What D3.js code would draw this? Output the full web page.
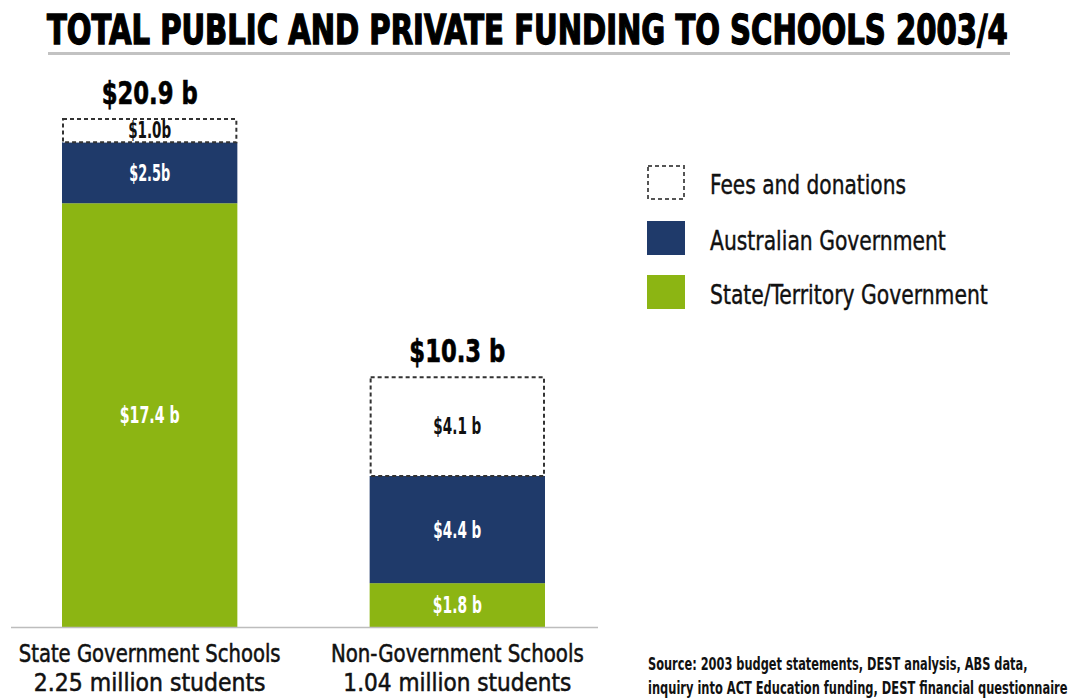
<!DOCTYPE html>
<html>
<head>
<meta charset="utf-8">
<script src="https://cdn.jsdelivr.net/npm/d3@7"></script>
<style>
  html, body { margin: 0; padding: 0; background: #ffffff; }
  svg { display: block; }
  text { font-family: 'Liberation Sans Narrow', 'DejaVu Sans Condensed', 'Arial Narrow', sans-serif; }
</style>
</head>
<body>
<svg id="chart" width="1072" height="699"></svg>
<script>
// ---- data ----
const title = "TOTAL PUBLIC AND PRIVATE FUNDING TO SCHOOLS 2003/4";
const categories = ["State Government Schools", "Non-Government Schools"];
const studentCounts = ["2.25 million students", "1.04 million students"];
const stateTerritory = [17.4, 1.8];
const australianGov = [2.5, 4.4];
const feesDonations = [1.0, 4.1];
const totals = [20.9, 10.3];
const totalLabels = ["$20.9 b", "$10.3 b"];
const stateLabels = ["$17.4 b", "$1.8 b"];
const ausLabels = ["$2.5b", "$4.4 b"];
const feesLabels = ["$1.0b", "$4.1 b"];
const seriesNames = ["Fees and donations", "Australian Government", "State/Territory Government"];
const sourceLines = ["Source: 2003 budget statements, DEST analysis, ABS data,",
                     "inquiry into ACT Education funding, DEST financial questionnaire"];

const NAVY = "#1f3a6a";
const GREEN = "#8cb513";

const svg = d3.select("#chart");

// place a text at (x,y) and squeeze it horizontally to a target width
function fitText(parent, x, y, str, width, anchor, attrs) {
  const gg = parent.append("g");
  const t = gg.append("text").attr("x", 0).attr("y", 0).attr("text-anchor", anchor).text(str);
  Object.entries(attrs).forEach(([k, v]) => t.attr(k, v));
  const w = t.node().getComputedTextLength();
  const s = width / w;
  gg.attr("transform", `translate(${x},${y}) scale(${s},1)`);
  return t;
}

// title
fitText(svg, 47, 44, title, 961, "start",
  { "font-size": 40, "font-weight": "bold", fill: "#000", stroke: "#000", "stroke-width": 1.3 });
svg.append("line")
  .attr("x1", 48).attr("x2", 1010).attr("y1", 53.5).attr("y2", 53.5)
  .attr("stroke", "#c2c2c2").attr("stroke-width", 3);

// scales
const x = d3.scaleBand().domain(categories).range([62, 545]).paddingInner(0.43).paddingOuter(0);
const y = d3.scaleLinear().domain([0, 20.9]).range([627, 118]);

const segWidths = [[60, 41, 43], [49, 48, 48]];

const rows = categories.map((c, i) => {
  const s1 = stateTerritory[i];
  const a1 = s1 + australianGov[i];
  const f1 = a1 + feesDonations[i];
  return { c, i, segs: [
    { key: "state", v0: 0, v1: s1, label: stateLabels[i] },
    { key: "aus", v0: s1, v1: a1, label: ausLabels[i] },
    { key: "fees", v0: a1, v1: f1, label: feesLabels[i] }
  ]};
});

const g = svg.append("g");
rows.forEach(r => {
  const bx = x(r.c), bw = x.bandwidth();
  r.segs.forEach((s, k) => {
    const top = y(s.v1), bot = y(s.v0);
    if (s.key === "fees") {
      g.append("rect").attr("x", bx + 1).attr("y", top + 1)
        .attr("width", bw - 2).attr("height", bot - top - 1)
        .attr("fill", "#fff").attr("stroke", "#333").attr("stroke-width", 2)
        .attr("stroke-dasharray", "4,3");
    } else {
      g.append("rect").attr("x", bx).attr("y", top)
        .attr("width", bw).attr("height", bot - top)
        .attr("fill", s.key === "aus" ? NAVY : GREEN);
    }
    fitText(g, bx + bw / 2, (top + bot) / 2 + 8, s.label, segWidths[r.i][k], "middle",
      { "font-size": 23, "font-weight": "bold", fill: s.key === "fees" ? "#111" : "#fff" });
  });
  // total
  fitText(g, bx + bw / 2, y(totals[r.i]) - 14, totalLabels[r.i], 96, "middle",
    { "font-size": 32, "font-weight": "bold", fill: "#000", stroke: "#000", "stroke-width": 0.6 });
  // category labels
  fitText(g, bx + bw / 2, 662, r.c, r.i === 0 ? 262 : 253, "middle",
    { "font-size": 24, fill: "#111", stroke: "#111", "stroke-width": 0.5 });
  fitText(g, bx + bw / 2, 691, studentCounts[r.i], r.i === 0 ? 232 : 228, "middle",
    { "font-size": 24, fill: "#111", stroke: "#111", "stroke-width": 0.5 });
});

// baseline
svg.append("line")
  .attr("x1", 11).attr("x2", 598).attr("y1", y(0) + 0.5).attr("y2", y(0) + 0.5)
  .attr("stroke", "#bdbdbd").attr("stroke-width", 1.5);

// legend
const legendY = [165, 221, 275];
const legendW = [196, 236, 278];
seriesNames.forEach((n, i) => {
  if (i === 0) {
    svg.append("rect").attr("x", 648).attr("y", legendY[i] + 1).attr("width", 36).attr("height", 33)
      .attr("fill", "#fff").attr("stroke", "#555").attr("stroke-width", 2).attr("stroke-dasharray", "4,3");
  } else {
    svg.append("rect").attr("x", 647).attr("y", legendY[i]).attr("width", 38).attr("height", 34)
      .attr("fill", i === 1 ? NAVY : GREEN);
  }
  fitText(svg, 710, legendY[i] + 29, n, legendW[i], "start",
    { "font-size": 27, fill: "#111", stroke: "#111", "stroke-width": 0.4 });
});

// source
sourceLines.forEach((t, i) => {
  fitText(svg, 648, 670 + i * 24, t, i === 0 ? 380 : 420, "start",
    { "font-size": 17, "font-weight": "bold", fill: "#111" });
});
</script>
</body>
</html>
